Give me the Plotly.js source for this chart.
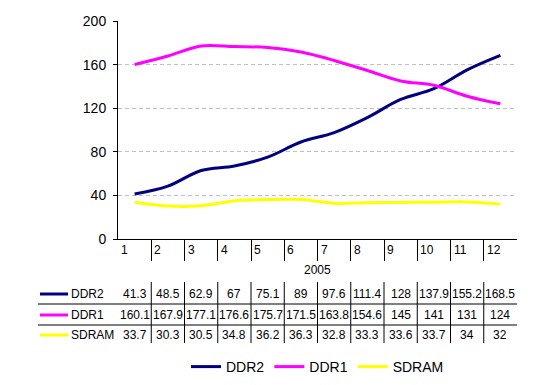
<!DOCTYPE html>
<html>
<head>
<meta charset="utf-8">
<script src="https://cdn.plot.ly/plotly-3.0.1.min.js"></script>
<style>html,body{margin:0;padding:0;background:#fff;}#chart{width:553px;height:385px;}</style>
</head>
<body>
<div id="chart"></div>
<script>
var months = [1,2,3,4,5,6,7,8,9,10,11,12];
var yearLabel = "2005";
var seriesNames = ["DDR2", "DDR1", "SDRAM"];
var ddr2 = [41.3, 48.5, 62.9, 67, 75.1, 89, 97.6, 111.4, 128, 137.9, 155.2, 168.5];
var ddr1 = [160.1, 167.9, 177.1, 176.6, 175.7, 171.5, 163.8, 154.6, 145, 141, 131, 124];
var sdram = [33.7, 30.3, 30.5, 34.8, 36.2, 36.3, 32.8, 33.3, 33.6, 33.7, 34, 32];
var colors = ["#000080", "#FF00FF", "#FFFF00"];
var seriesData = [ddr2, ddr1, sdram];

var W = 553, H = 385;
var L = 118, R = 517, T = 21, B = 239;
var font = "Arial, 'Liberation Sans', sans-serif";

function px2paperX(p){ return (p - L) / (R - L); }
function px2paperY(p){ return (B - p) / (B - T); }

var traces = seriesData.map(function(d, i){
  return {
    x: months, y: d, name: seriesNames[i], type: 'scatter', mode: 'lines',
    line: {color: colors[i], width: 3, shape: 'spline', smoothing: 1},
    hoverinfo: 'skip'
  };
});

var annotations = [];
var shapes = [];
// x tick labels (placed at left of each category)
months.forEach(function(m){
  annotations.push({x: m - 0.5, y: px2paperY(250), xref: 'x', yref: 'paper', text: String(m),
    showarrow: false, xanchor: 'left', yanchor: 'middle', xshift: 1,
    font: {family: font, size: 12, color: '#000'}});
});
annotations.push({x: 0.5, y: px2paperY(270), xref: 'paper', yref: 'paper', text: yearLabel,
  showarrow: false, xanchor: 'center', yanchor: 'middle', font: {family: font, size: 12, color: '#000'}});

var rowY = [294, 315, 335];
seriesData.forEach(function(d, r){
  annotations.push({x: px2paperX(69), y: px2paperY(rowY[r]), xref: 'paper', yref: 'paper', text: seriesNames[r],
    showarrow: false, xanchor: 'left', yanchor: 'middle', font: {family: font, size: 12, color: '#000'}});
  shapes.push({type: 'line', xref: 'paper', yref: 'paper', x0: px2paperX(40), x1: px2paperX(68),
    y0: px2paperY(rowY[r]), y1: px2paperY(rowY[r]), line: {color: colors[r], width: 3}});
  d.forEach(function(v, i){
    annotations.push({x: months[i], y: px2paperY(rowY[r]), xref: 'x', yref: 'paper', text: String(v),
      showarrow: false, xanchor: 'center', yanchor: 'middle', font: {family: font, size: 12, color: '#000'}});
  });
});
// table grid lines
[304, 325].forEach(function(yy){
  shapes.push({type: 'line', xref: 'paper', yref: 'paper', x0: px2paperX(38), x1: 1,
    y0: px2paperY(yy), y1: px2paperY(yy), line: {color: '#000', width: 1}});
});
for (var k = 1; k < months.length; k++) {
  shapes.push({type: 'line', xref: 'paper', yref: 'paper', x0: k / months.length, x1: k / months.length,
    y0: px2paperY(282), y1: px2paperY(343), line: {color: '#000', width: 1}});
}

var layout = {
  width: W, height: H,
  margin: {l: L, r: W - R, t: T, b: H - B, pad: 0, autoexpand: false},
  paper_bgcolor: '#fff', plot_bgcolor: '#fff',
  font: {family: font, size: 14, color: '#000'},
  showlegend: true,
  legend: {orientation: 'h', x: 0.5, xanchor: 'center', y: px2paperY(367), yanchor: 'middle',
    font: {family: font, size: 14, color: '#000'}, bgcolor: 'rgba(0,0,0,0)', itemwidth: 30, tracegroupgap: 0},
  xaxis: {range: [0.5, 12.5], tickvals: months.slice(0, 11).map(function(m){ return m + 0.5; }),
    showticklabels: false, ticks: 'outside', ticklen: 21, tickwidth: 1, tickcolor: '#000',
    showline: true, linecolor: '#000', linewidth: 1, showgrid: false, zeroline: false, fixedrange: true},
  yaxis: {range: [0, 200], dtick: 40, tick0: 0, ticks: 'outside', ticklen: 4, tickcolor: '#000', tickwidth: 1,
    showline: true, linecolor: '#000', linewidth: 1, showgrid: true, gridcolor: '#c0c0c0',
    griddash: '4px,3px', gridwidth: 1, zeroline: false, ticklabelstandoff: 4,
    tickfont: {family: font, size: 14, color: '#000'}, fixedrange: true},
  annotations: annotations,
  shapes: shapes
};
Plotly.newPlot('chart', traces, layout, {displayModeBar: false, staticPlot: true});
</script>
</body>
</html>
